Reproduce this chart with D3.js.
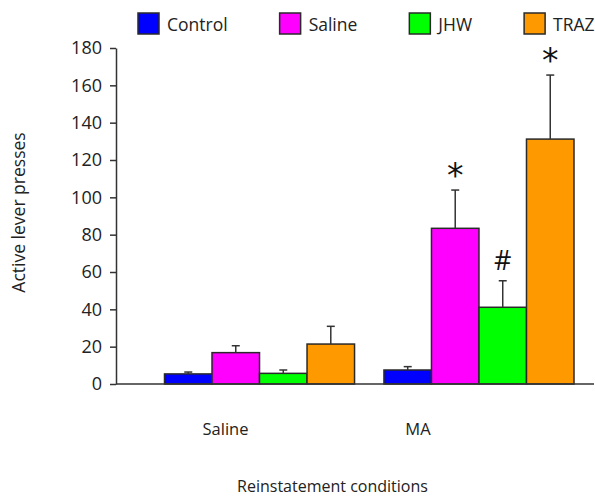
<!DOCTYPE html>
<html>
<head>
<meta charset="utf-8">
<script src="https://cdn.jsdelivr.net/npm/d3@7"></script>
<style>
  body { margin: 0; background: #fff; }
  svg { font-family: "Open Sans", sans-serif; }
</style>
</head>
<body>
<svg id="chart" width="595" height="498"></svg>
<script>
// values
const groups = ['Saline', 'MA'];
const treatments = ['Control', 'Saline', 'JHW', 'TRAZ'];
const colors = ['#0000ff', '#ff00ff', '#00ff00', '#ff9900'];
const salineMeans = [5.4, 16.8, 5.7, 21.4];
const salineSem = [1.0, 3.7, 1.8, 9.5];
const maMeans = [7.5, 83.4, 41.1, 131.2];
const maSem = [1.8, 20.5, 14.2, 34.3];
const maMarks = ['', '*', '#', '*'];
const yTicks = [0, 20, 40, 60, 80, 100, 120, 140, 160, 180];

const means = [salineMeans, maMeans];
const sems = [salineSem, maSem];
const marks = [['', '', '', ''], maMarks];

const rows = [];
groups.forEach((g, gi) => {
  treatments.forEach((t, ti) => {
    rows.push({ group: g, treat: t, mean: means[gi][ti], sem: sems[gi][ti], mark: marks[gi][ti] });
  });
});

const svg = d3.select('#chart');

const y = d3.scaleLinear().domain([0, 180]).range([384, 48]);
const x0 = d3.scaleBand().domain(groups).range([164.5, 574]).paddingInner(0.134);
const x1 = d3.scaleBand().domain(treatments).range([0, x0.bandwidth()]);
const color = d3.scaleOrdinal().domain(treatments).range(colors);
// group labels sit left of the bar groups in the original
const xLab = d3.scalePoint().domain(groups).range([225.5, 418]);

// y axis
const yAxis = svg.append('g')
  .attr('transform', 'translate(116,0)')
  .call(d3.axisLeft(y).tickValues(yTicks).tickSize(6).tickSizeOuter(0).tickPadding(8));
yAxis.select('.domain').attr('stroke', '#333').attr('stroke-width', 1.5);
yAxis.selectAll('.tick line').attr('stroke', '#333').attr('stroke-width', 1.5);
yAxis.selectAll('.tick text')
  .attr('font-size', 18).attr('fill', '#222')
  .attr('font-family', '"Open Sans", sans-serif');

// bars
const bars = svg.append('g');
bars.selectAll('rect')
  .data(rows)
  .join('rect')
  .attr('x', d => x0(d.group) + x1(d.treat))
  .attr('y', d => y(d.mean))
  .attr('width', x1.bandwidth())
  .attr('height', d => y(0) - y(d.mean))
  .attr('fill', d => color(d.treat))
  .attr('stroke', '#2a2a2a')
  .attr('stroke-width', 1.5);

// error bars (upper only)
const err = svg.append('g').attr('stroke', '#333').attr('stroke-width', 1.5);
rows.forEach(d => {
  const cx = x0(d.group) + x1(d.treat) + x1.bandwidth() / 2;
  err.append('line').attr('x1', cx).attr('x2', cx)
    .attr('y1', y(d.mean)).attr('y2', y(d.mean + d.sem));
  err.append('line').attr('x1', cx - 4).attr('x2', cx + 4)
    .attr('y1', y(d.mean + d.sem)).attr('y2', y(d.mean + d.sem));
});

// significance marks
svg.append('g').selectAll('text')
  .data(rows.filter(d => d.mark))
  .join('text')
  .attr('x', d => x0(d.group) + x1(d.treat) + x1.bandwidth() / 2)
  .attr('y', d => d.mark === '*' ? y(d.mean + d.sem) - 3 : y(d.mean + d.sem) - 11)
  .attr('text-anchor', 'middle')
  .attr('font-family', d => d.mark === '*' ? '"DejaVu Sans", sans-serif' : '"Open Sans", sans-serif')
  .attr('font-size', d => d.mark === '*' ? 33 : 27)
  .attr('fill', '#111')
  .text(d => d.mark);

// x axis baseline
svg.append('line')
  .attr('x1', 116).attr('x2', 594)
  .attr('y1', y(0)).attr('y2', y(0))
  .attr('stroke', '#333').attr('stroke-width', 1.5);

// group labels
svg.append('g').selectAll('text')
  .data(groups)
  .join('text')
  .attr('x', d => xLab(d))
  .attr('y', 435)
  .attr('text-anchor', 'middle')
  .attr('font-size', 16.5)
  .attr('fill', '#222')
  .text(d => d);

// axis titles
svg.append('text')
  .attr('x', 332.5).attr('y', 492)
  .attr('text-anchor', 'middle')
  .attr('font-size', 16).attr('fill', '#222')
  .text('Reinstatement conditions');

svg.append('text')
  .attr('transform', 'translate(25,212.5) rotate(-90)')
  .attr('text-anchor', 'middle')
  .attr('font-size', 17.5).attr('fill', '#222')
  .text('Active lever presses');

// legend, laid out left to right
const legend = svg.append('g');
let cursor = 138;
treatments.forEach(t => {
  const item = legend.append('g').attr('transform', `translate(${cursor},13)`);
  item.append('rect')
    .attr('width', 21).attr('height', 21)
    .attr('fill', color(t))
    .attr('stroke', '#2a2a2a').attr('stroke-width', 1.5);
  const txt = item.append('text')
    .attr('x', 29).attr('y', 17.5)
    .attr('font-size', 17.5).attr('fill', '#222')
    .text(t);
  cursor += 29 + txt.node().getComputedTextLength() + 52;
});
</script>
</body>
</html>
